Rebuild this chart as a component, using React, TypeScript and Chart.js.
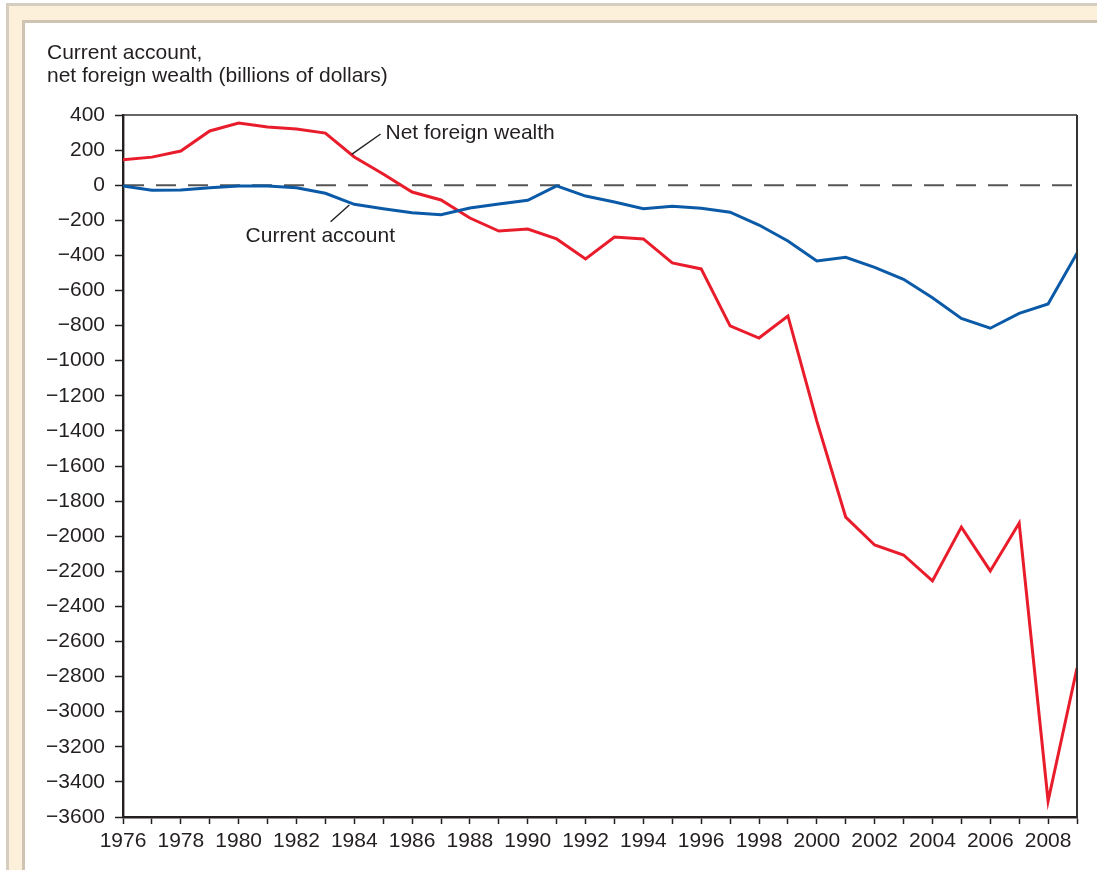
import React, { useEffect, useRef } from "react";
import { Chart, registerables } from "chart.js";

Chart.register(...registerables);

const years = [
  1976, 1977, 1978, 1979, 1980, 1981, 1982, 1983, 1984, 1985, 1986, 1987,
  1988, 1989, 1990, 1991, 1992, 1993, 1994, 1995, 1996, 1997, 1998, 1999,
  2000, 2001, 2002, 2003, 2004, 2005, 2006, 2007, 2008, 2009,
];

const netForeignWealth = [
  145, 160, 195, 309, 354, 332, 320, 297, 161, 64, -39, -84, -187, -261, -250,
  -306, -420, -295, -306, -443, -477, -802, -871, -745, -1344, -1891, -2050,
  -2107, -2255, -1948, -2198, -1925, -3509, -2751,
];

const currentAccount = [
  -4, -29, -27, -14, -4, -4, -14, -46, -109, -134, -157, -168, -130, -107, -86,
  -4, -62, -96, -134, -120, -132, -154, -227, -318, -432, -411, -468, -536,
  -641, -759, -815, -730, -677, -388,
];

const yTicks = [
  400, 200, 0, -200, -400, -600, -800, -1000, -1200, -1400, -1600, -1800,
  -2000, -2200, -2400, -2600, -2800, -3000, -3200, -3400, -3600,
];

const xTickLabels = [
  1976, 1978, 1980, 1982, 1984, 1986, 1988, 1990, 1992, 1994, 1996, 1998,
  2000, 2002, 2004, 2006, 2008,
];

const titleLines = ["Current account,", "net foreign wealth (billions of dollars)"];

const TEXT = "#231f20";
const RED = "#e91c2b";
const BLUE = "#0b5aa8";
const FONT = "'Liberation Sans', Arial, Helvetica, sans-serif";

const fmt = (v: number) => (v < 0 ? "\u2212" + Math.abs(v) : String(v));

const customPlugin = {
  id: "custom",
  beforeDatasetsDraw(chart: any) {
    const { ctx, chartArea, scales } = chart;
    const y0 = scales.y.getPixelForValue(0);
    ctx.save();
    ctx.setLineDash([20, 12]);
    ctx.strokeStyle = "#555555";
    ctx.lineWidth = 2;
    ctx.beginPath();
    ctx.moveTo(chartArea.left + 1, y0);
    ctx.lineTo(chartArea.right, y0);
    ctx.stroke();
    ctx.restore();
  },
  afterDraw(chart: any) {
    const { ctx, chartArea, scales } = chart;
    const xs = scales.x;
    const ys = scales.y;
    ctx.save();
    // top & right frame
    ctx.strokeStyle = "#333333";
    ctx.lineWidth = 1.5;
    ctx.beginPath();
    ctx.moveTo(chartArea.left, chartArea.top);
    ctx.lineTo(chartArea.right, chartArea.top);
    ctx.stroke();
    ctx.lineWidth = 2;
    ctx.beginPath();
    ctx.moveTo(chartArea.right, chartArea.top);
    ctx.lineTo(chartArea.right, chartArea.bottom);
    ctx.stroke();

    // annotations
    ctx.strokeStyle = TEXT;
    ctx.lineWidth = 1.4;
    ctx.beginPath();
    ctx.moveTo(xs.getPixelForValue(1983.91), ys.getPixelForValue(176));
    ctx.lineTo(xs.getPixelForValue(1984.91), ys.getPixelForValue(292));
    ctx.stroke();
    ctx.beginPath();
    ctx.moveTo(xs.getPixelForValue(1983.18), ys.getPixelForValue(-208));
    ctx.lineTo(xs.getPixelForValue(1983.83), ys.getPixelForValue(-113));
    ctx.stroke();

    ctx.fillStyle = TEXT;
    ctx.font = `21px ${FONT}`;
    ctx.textBaseline = "middle";
    ctx.textAlign = "left";
    ctx.fillText("Net foreign wealth", xs.getPixelForValue(1985.08), ys.getPixelForValue(296));
    ctx.fillText("Current account", xs.getPixelForValue(1980.24), ys.getPixelForValue(-288));

    // title
    ctx.textBaseline = "alphabetic";
    ctx.fillText(titleLines[0], 47, 58.7);
    ctx.fillText(titleLines[1], 47, 81.7);
    ctx.restore();
  },
};

export default function App() {
  const ref = useRef<HTMLCanvasElement | null>(null);

  useEffect(() => {
    if (!ref.current) return;
    const chart = new Chart(ref.current, {
      type: "line",
      data: {
        datasets: [
          {
            label: "Current account",
            data: years.map((y, i) => ({ x: y, y: currentAccount[i] })),
            borderColor: BLUE,
            borderWidth: 3,
            pointRadius: 0,
            tension: 0,
            fill: false,
          },
          {
            label: "Net foreign wealth",
            data: years.map((y, i) => ({ x: y, y: netForeignWealth[i] })),
            borderColor: RED,
            borderWidth: 3,
            pointRadius: 0,
            tension: 0,
            fill: false,
          },
        ],
      },
      options: {
        animation: false,
        responsive: false,
        events: [],
        layout: { padding: { top: 115, right: 20, left: 0, bottom: 0 } },
        plugins: {
          legend: { display: false },
          tooltip: { enabled: false },
          title: { display: false },
        },
        scales: {
          x: {
            type: "linear",
            min: years[0],
            max: years[years.length - 1],
            afterBuildTicks: (scale: any) => {
              scale.ticks = years.map((v) => ({ value: v }));
            },
            afterFit: (scale: any) => {
              scale.height = 53;
            },
            ticks: {
              autoSkip: false,
              maxRotation: 0,
              minRotation: 0,
              padding: 5,
              color: TEXT,
              font: { family: FONT, size: 21 },
              callback: (v: any) => (xTickLabels.includes(Number(v)) ? String(v) : ""),
            },
            grid: {
              drawOnChartArea: false,
              drawTicks: true,
              tickLength: 7,
              tickColor: TEXT,
              tickWidth: 1.5,
            },
            border: { display: true, color: TEXT, width: 2.6 },
          },
          y: {
            type: "linear",
            min: yTicks[yTicks.length - 1],
            max: yTicks[0],
            afterBuildTicks: (scale: any) => {
              scale.ticks = yTicks.map((v) => ({ value: v }));
            },
            afterFit: (scale: any) => {
              scale.width = 123;
            },
            ticks: {
              autoSkip: false,
              padding: 10,
              color: TEXT,
              font: { family: FONT, size: 21 },
              callback: (v: any) => fmt(Number(v)),
            },
            grid: {
              drawOnChartArea: false,
              drawTicks: true,
              tickLength: 8,
              tickColor: TEXT,
              tickWidth: 1.5,
            },
            border: { display: true, color: TEXT, width: 2.4 },
          },
        },
      },
      plugins: [customPlugin],
    });
    return () => chart.destroy();
  }, []);

  return (
    <div
      style={{
        position: "absolute",
        left: 0,
        top: 0,
        width: 1097,
        height: 870,
        overflow: "hidden",
        background: "#ffffff",
      }}
    >
      <div
        style={{
          position: "absolute",
          left: 6,
          top: 3,
          width: 1300,
          height: 1100,
          background: "#fdf0da",
          border: "3px solid #d6cdc1",
          boxSizing: "border-box",
        }}
      />
      <div
        style={{
          position: "absolute",
          left: 22,
          top: 20,
          width: 1300,
          height: 1100,
          background: "#ffffff",
          border: "3px solid #cfc3b2",
          boxSizing: "border-box",
        }}
      />
      <canvas
        ref={ref}
        width={1097}
        height={870}
        style={{ position: "absolute", left: 0, top: 0, width: 1097, height: 870 }}
      />
    </div>
  );
}
